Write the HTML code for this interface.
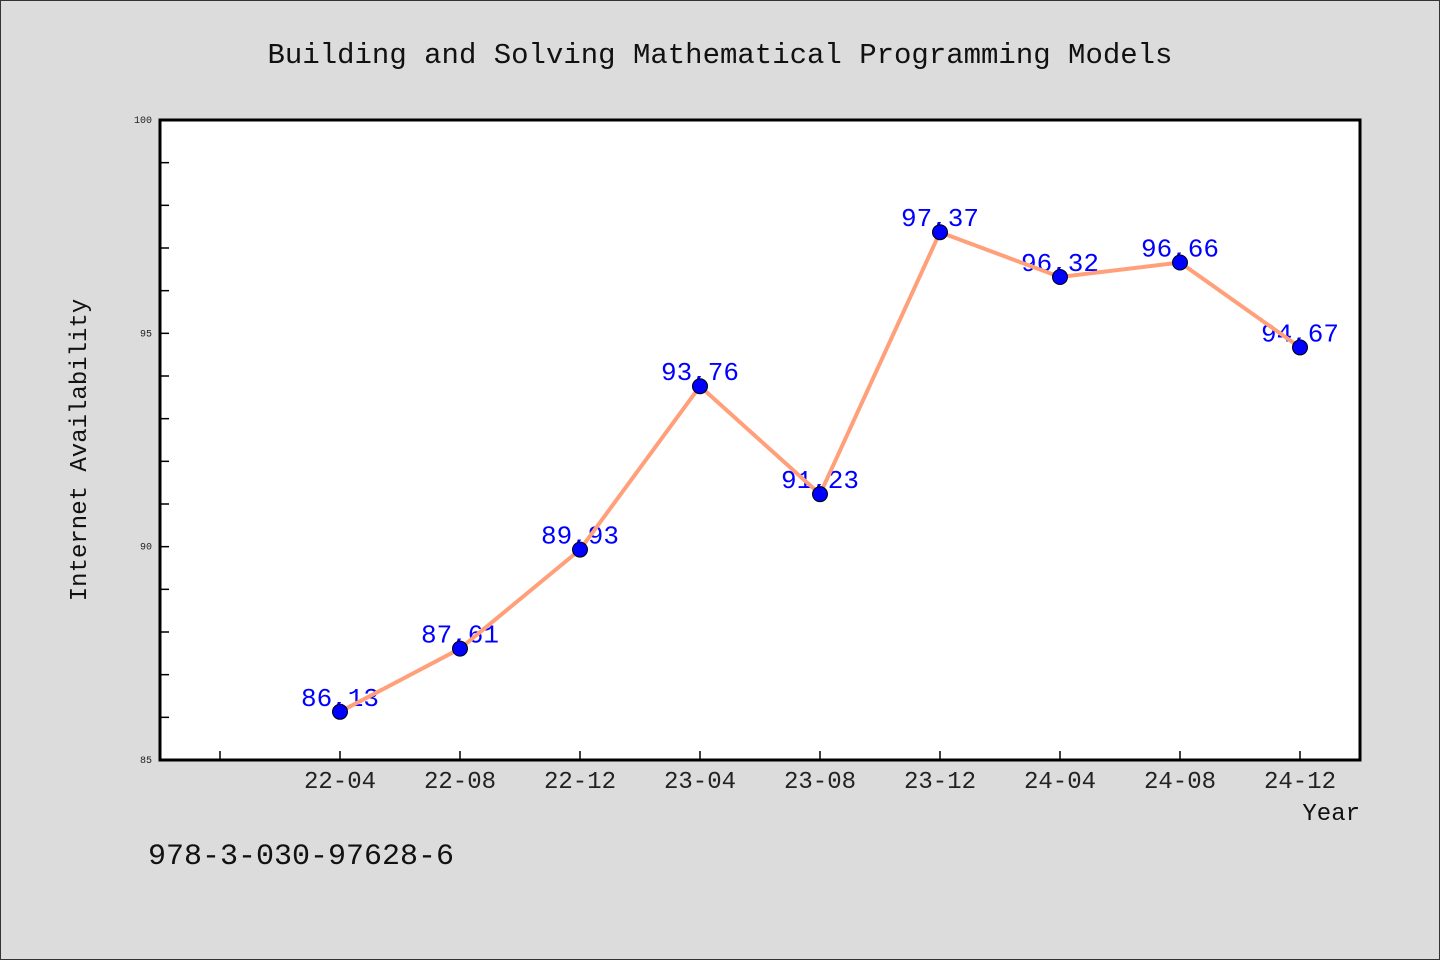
<!DOCTYPE html>
<html><head><meta charset="utf-8"><style>
body{margin:0;background:#dcdcdc;}
svg{display:block;font-family:"Liberation Mono","DejaVu Sans Mono",monospace;}
</style></head><body>
<svg width="1440" height="960">
<rect x="0.5" y="0.5" width="1439" height="959" fill="#dcdcdc" stroke="#333"/>
<text x="720" y="63" text-anchor="middle" font-size="29" fill="#111">Building and Solving Mathematical Programming Models</text>
<rect x="160" y="120" width="1200" height="640" fill="#fff"/>
<g id="ticks"></g>
<g id="series"></g>
<rect x="160" y="120" width="1200" height="640" fill="none" stroke="#000" stroke-width="3"/>
<text x="86" y="450" transform="rotate(-90 86 450)" text-anchor="middle" font-size="24" fill="#111">Internet Availability</text>
<text x="1360" y="820" text-anchor="end" font-size="24" fill="#111">Year</text>
<text x="148" y="864" font-size="30" fill="#111">978-3-030-97628-6</text>
</svg>
<script>
const categories=["22-04","22-08","22-12","23-04","23-08","23-12","24-04","24-08","24-12"];
const values=[86.13,87.61,89.93,93.76,91.23,97.37,96.32,96.66,94.67];
const yTickLabels=[85,90,95,100];
const NS="http://www.w3.org/2000/svg";
const L=160,R=1360,T=120,B=760,ymin=85,ymax=100;
function x(i){return L+(i+1.5)*(R-L)/(categories.length+1);}
function y(v){return B-(v-ymin)/(ymax-ymin)*(B-T);}
function mk(tag,attrs,parent){const e=document.createElementNS(NS,tag);for(const k in attrs)e.setAttribute(k,attrs[k]);parent.appendChild(e);return e;}
const tg=document.getElementById('ticks'),sg=document.getElementById('series');
for(let v=ymin+1;v<ymax;v++){
  const t=mk('line',{x1:L,x2:L+9,y1:y(v),y2:y(v),stroke:'#000','stroke-width':1.5},tg);
  
  
}
yTickLabels.forEach(v=>{
  const t=mk('text',{x:L-8,y:y(v)+3,'text-anchor':'end','font-size':10,fill:'#222'},tg);
  t.textContent=v;
  
  
});
for(let i=-1;i<categories.length;i++){
  const t=mk('line',{x1:x(i),x2:x(i),y1:B,y2:B-9,stroke:'#000','stroke-width':1.5},tg);
  
  
}
categories.forEach((c,i)=>{
  const t=mk('text',{x:x(i),y:B+28,'text-anchor':'middle','font-size':24,fill:'#222'},tg);
  t.textContent=c;
  
  
});
values.forEach((v,i)=>{
  const t=mk('text',{x:x(i),y:y(v)-6,'text-anchor':'middle','font-size':26,fill:'#0000ff'},sg);
  t.textContent=v.toFixed(2).replace('.',',');
  
  
});
const line=mk('polyline',{points:values.map((v,i)=>x(i)+','+y(v)).join(' '),fill:'none',stroke:'#ffa07a','stroke-width':4},sg);


values.forEach((v,i)=>{
  const c=mk('circle',{cx:x(i),cy:y(v),r:7.5,fill:'#0000ff',stroke:'#000','stroke-width':1},sg);
  
  
});
</script>
</body></html>
